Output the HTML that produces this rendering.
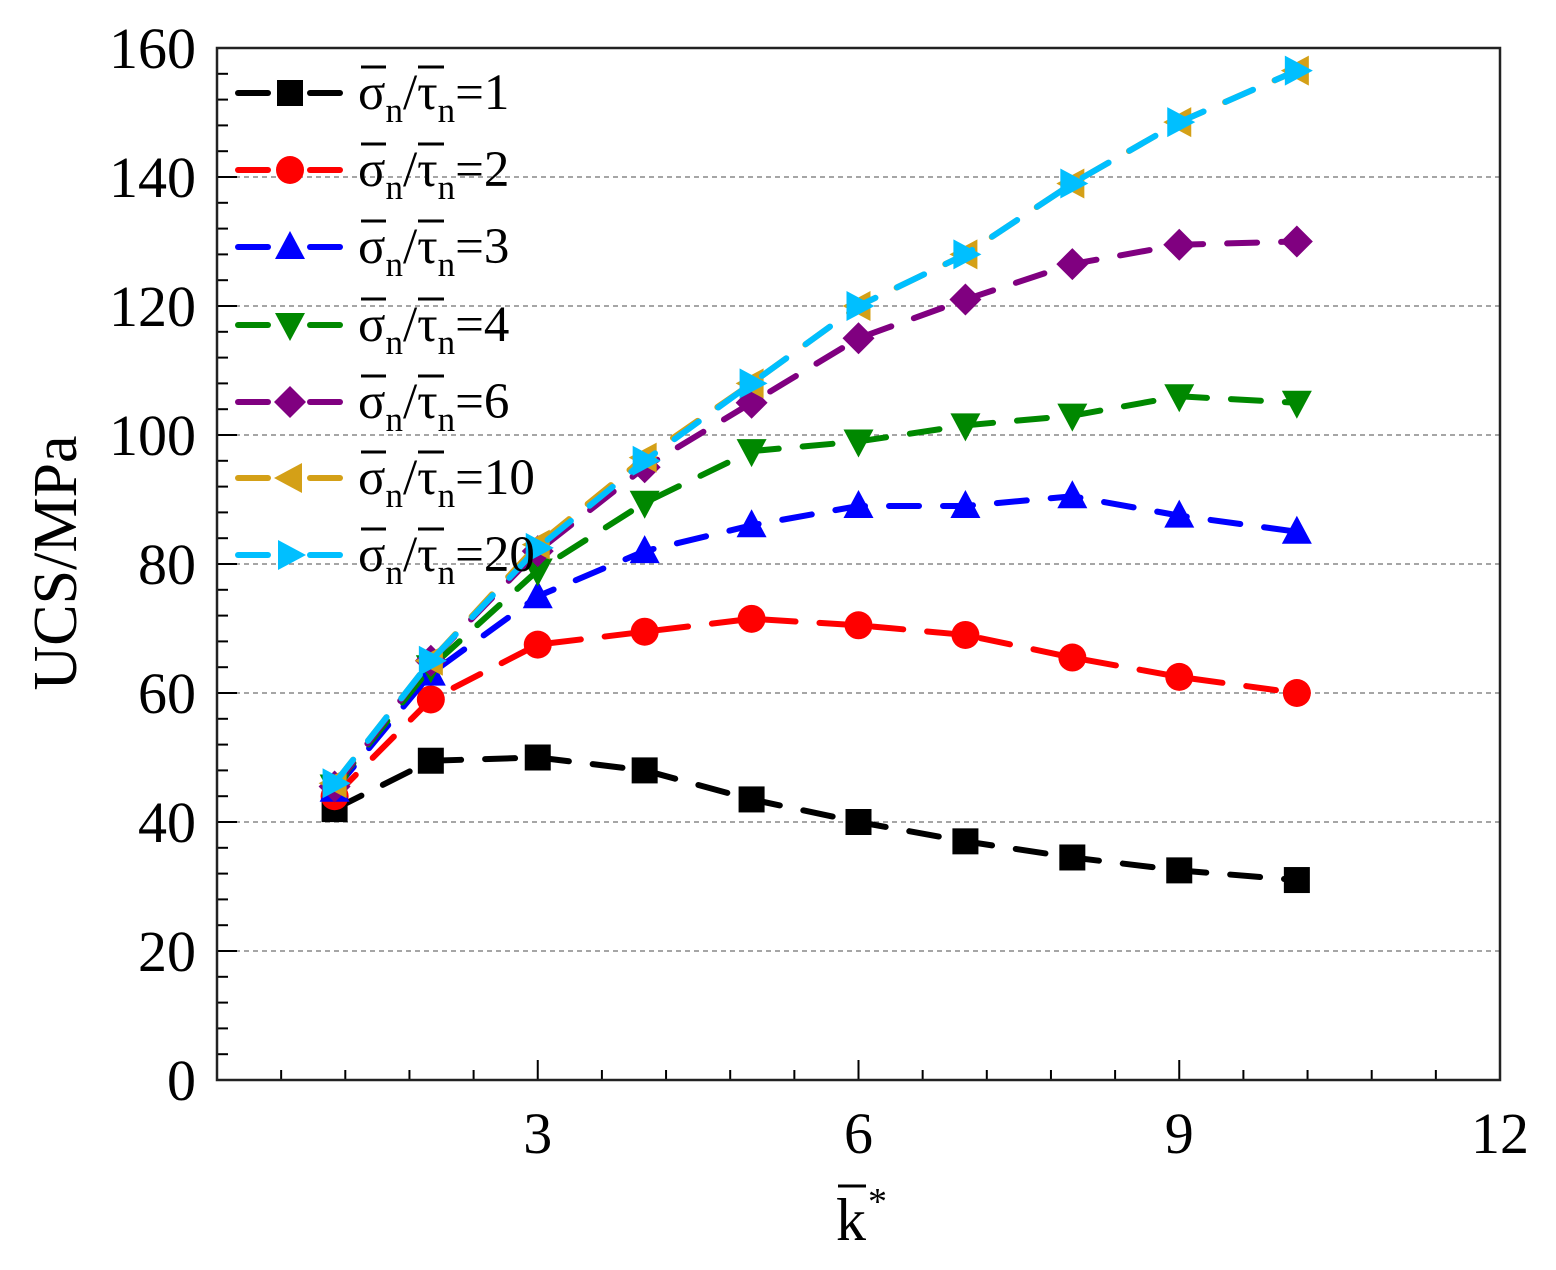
<!DOCTYPE html>
<html><head><meta charset="utf-8"><style>
html,body{margin:0;padding:0;background:#fff;width:1556px;height:1270px;overflow:hidden}
svg text{font-family:"Liberation Serif",serif;fill:#000}
</style></head><body>
<svg id="s" width="1556" height="1270" xmlns="http://www.w3.org/2000/svg"></svg>
<script>
const X0=217,X1=1500,Y0=1080,Y1=48;
const sx=v=>X0+v*(X1-X0)/12, sy=v=>Y0-v*(Y0-Y1)/160;
let h='';
for(let v=20;v<160;v+=20)h+=`<line x1="${X0}" x2="${X1}" y1="${sy(v)}" y2="${sy(v)}" stroke="#888" stroke-width="1.5" stroke-dasharray="5,4"/>`;
for(let v=0;v<=160;v+=4){const y=sy(v),L=v%20==0?20:11;h+=`<line x1="${X0}" x2="${X0+L}" y1="${y}" y2="${y}" stroke="#000" stroke-width="2"/>`;}
for(let i=1;i<20;i++){const x=X0+i*(X1-X0)/20,L=i%5==0?20:10;h+=`<line x1="${x}" x2="${x}" y1="${Y0}" y2="${Y0-L}" stroke="#000" stroke-width="2"/>`;}
h+=`<rect x="${X0}" y="${Y1}" width="${X1-X0}" height="${Y0-Y1}" fill="none" stroke="#222" stroke-width="2.5"/>`;
for(let v=0;v<=160;v+=20)h+=`<text x="196" y="${sy(v)+20}" font-size="58" text-anchor="end">${v}</text>`;
[3,6,9,12].forEach(v=>h+=`<text x="${sx(v)}" y="1153" font-size="58" text-anchor="middle">${v}</text>`);
h+=`<text x="76" y="563" font-size="62" text-anchor="middle" transform="rotate(-90 76 563)">UCS/MPa</text>`;
h+=`<text x="836" y="1240" font-size="60">k</text><line x1="838" x2="866" y1="1186" y2="1186" stroke="#000" stroke-width="3"/><text x="868" y="1214" font-size="38">*</text>`;
const xs=[1.1,2,3,4,5,6,7,8,9,10.1];
const S=[
['#000','sq',[42,49.5,50,48,43.5,40,37,34.5,32.5,31],'1'],
['#f00','ci',[44,59,67.5,69.5,71.5,70.5,69,65.5,62.5,60],'2'],
['#00f','up',[45,63,75,82,86,89,89,90.5,87.5,85],'3'],
['#080','dn',[45.5,64,79,89.5,97.5,99,101.5,103,106,105],'4'],
['#800080','di',[45.5,65,82,95,105,115,121,126.5,129.5,130],'6'],
['#d4a017','lf',[46,65,83,96.5,108,120,128,139,148.5,156.5],'10'],
['#00bfff','rt',[46,65,82.5,96,108,120,128,139,148.5,156.5],'20']];
function mk(t,x,y,c){const r=13;
 if(t=='sq')return `<rect x="${x-r}" y="${y-r}" width="${2*r}" height="${2*r}" fill="${c}"/>`;
 if(t=='ci')return `<circle cx="${x}" cy="${y}" r="${r+1}" fill="${c}"/>`;
 if(t=='up')return `<polygon points="${x},${y-16} ${x-15},${y+12} ${x+15},${y+12}" fill="${c}"/>`;
 if(t=='dn')return `<polygon points="${x},${y+16} ${x-15},${y-12} ${x+15},${y-12}" fill="${c}"/>`;
 if(t=='di')return `<polygon points="${x},${y-16} ${x+16},${y} ${x},${y+16} ${x-16},${y}" fill="${c}"/>`;
 if(t=='lf')return `<polygon points="${x-16},${y} ${x+12},${y-15} ${x+12},${y+15}" fill="${c}"/>`;
 return `<polygon points="${x+16},${y} ${x-12},${y-15} ${x-12},${y+15}" fill="${c}"/>`;}
S.forEach(([c,t,d])=>{
 const p=d.map((v,i)=>`${sx(xs[i])},${sy(v)}`).join(' ');
 h+=`<polyline points="${p}" fill="none" stroke="${c}" stroke-width="6" stroke-linecap="round" stroke-dasharray="30,24"/>`;
 d.forEach((v,i)=>h+=mk(t,sx(xs[i]),sy(v),c));
});
const LY=[93,170,247,325,402,478,555];
S.forEach(([c,t,d,lab],k)=>{const y=LY[k];
 h+=`<line x1="238" x2="268" y1="${y}" y2="${y}" stroke="${c}" stroke-width="6" stroke-linecap="round"/><line x1="310" x2="340" y1="${y}" y2="${y}" stroke="${c}" stroke-width="6" stroke-linecap="round"/>`;
 h+=mk(t,290,y,c);
 h+=`<text x="358" y="${y+16}" font-size="51">σ<tspan font-size="35" dy="13">n</tspan><tspan dy="-13">/τ</tspan><tspan font-size="35" dy="13">n</tspan><tspan dy="-13">=${lab}</tspan></text>`;
 h+=`<line x1="361" x2="386" y1="${y-26}" y2="${y-26}" stroke="#000" stroke-width="3"/><line x1="418" x2="444" y1="${y-26}" y2="${y-26}" stroke="#000" stroke-width="3"/>`;
});
document.getElementById('s').innerHTML=h;
</script>
</body></html>
